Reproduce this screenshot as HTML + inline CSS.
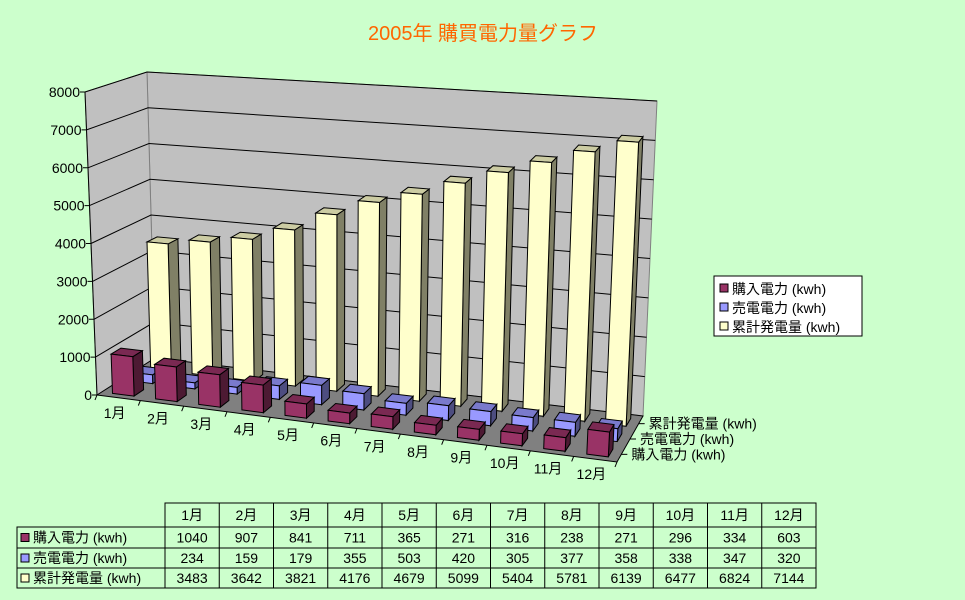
<!DOCTYPE html>
<html><head><meta charset="utf-8">
<style>
body{margin:0;background:#ccffcc;}
svg{display:block;font-family:"Liberation Sans","Noto Sans CJK JP",sans-serif;}
</style></head>
<body>
<svg id="chart" width="965" height="600" viewBox="0 0 965 600">
<rect x="0" y="0" width="965" height="600" fill="#ccffcc"/>
<text x="483" y="40" text-anchor="middle" font-size="20" fill="#ff6600">2005年  購買電力量グラフ</text>
<g id="plot"></g>
<g id="legend"></g>
<g id="table"></g>
</svg>
<script>
const categories=["1月","2月","3月","4月","5月","6月","7月","8月","9月","10月","11月","12月"];
const seriesNames=["購入電力 (kwh)","売電電力 (kwh)","累計発電量 (kwh)"];
const purchased=[1040,907,841,711,365,271,316,238,271,296,334,603];
const sold=[234,159,179,355,503,420,305,377,358,338,347,320];
const cumulative=[3483,3642,3821,4176,4679,5099,5404,5781,6139,6477,6824,7144];
const yTicks=[0,1000,2000,3000,4000,5000,6000,7000,8000];
const Y_MAX=8000;

const NS="http://www.w3.org/2000/svg";
const FL=[97,395],FR=[617,462],BL=[155,358],BR=[643,416];
const FTL=[85,92],FTR=[633,132],BTL=[147,72],BTR=[657,101];
function lerp(a,b,t){return [a[0]+(b[0]-a[0])*t,a[1]+(b[1]-a[1])*t];}
function P(u,v,t){
  const bl=lerp(FL,BL,t),br=lerp(FR,BR,t),tl=lerp(FTL,BTL,t),tr=lerp(FTR,BTR,t);
  const b=lerp(bl,br,u),tp=lerp(tl,tr,u);
  return lerp(b,tp,v/Y_MAX);
}
function pts(arr){return arr.map(p=>p[0].toFixed(1)+","+p[1].toFixed(1)).join(" ");}
function el(tag,attrs,parent){const e=document.createElementNS(NS,tag);for(const k in attrs)e.setAttribute(k,attrs[k]);parent.appendChild(e);return e;}

const plot=document.getElementById('plot');
let w=el('polygon',{points:pts([P(0,0,1),P(1,0,1),P(1,Y_MAX,1),P(0,Y_MAX,1)]),fill:'#c0c0c0',stroke:'#808080'},plot);


w=el('polygon',{points:pts([P(0,0,0),P(0,0,1),P(0,Y_MAX,1),P(0,Y_MAX,0)]),fill:'#c0c0c0',stroke:'#808080'},plot);


w=el('polygon',{points:pts([P(0,0,0),P(1,0,0),P(1,0,1),P(0,0,1)]),fill:'#808080',stroke:'#000'},plot);


yTicks.forEach(v=>{
  if(v>0){
    const a=P(0,v,0),b=P(0,v,1),c=P(1,v,1);
    const g=el('polyline',{points:pts([a,b,c]),fill:'none',stroke:'#000','stroke-width':1},plot);
    
    
  }
  const a=P(0,v,0);
  el('line',{x1:a[0]-5,y1:a[1],x2:a[0],y2:a[1],stroke:'#000'},plot);
  const t=el('text',{x:a[0]-5,y:a[1]+5,'text-anchor':'end','font-size':14,fill:'#000'},plot);
  t.textContent=v;
  
  
});
el('line',{x1:FL[0],y1:FL[1],x2:FTL[0],y2:FTL[1],stroke:'#000'},plot);
const series=[purchased,sold,cumulative];
const colors=[
 {front:'#993366',top:'#7a2952',side:'#4d1a33'},
 {front:'#9999ff',top:'#7a7acc',side:'#4d4d80'},
 {front:'#ffffcc',top:'#cccca3',side:'#808066'}];
const barNames=['bar-purchased','bar-sold','bar-cumulative'];
for(let s=2;s>=0;s--){
  const tc=(s+0.5)/3, t0=tc-0.085, t1=tc+0.085;
  for(let i=11;i>=0;i--){
    const val=series[s][i];
    const u0=(i+0.25)/12,u1=(i+0.75)/12;
    const g=el('g',{},plot);
    
    
    el('polygon',{points:pts([P(u1,0,t0),P(u1,0,t1),P(u1,val,t1),P(u1,val,t0)]),fill:colors[s].side,stroke:'#000'},g);
    el('polygon',{points:pts([P(u0,val,t0),P(u1,val,t0),P(u1,val,t1),P(u0,val,t1)]),fill:colors[s].top,stroke:'#000'},g);
    el('polygon',{points:pts([P(u0,0,t0),P(u1,0,t0),P(u1,val,t0),P(u0,val,t0)]),fill:colors[s].front,stroke:'#000'},g);
  }
}
for(let i=0;i<=12;i++){const a=P(i/12,0,0);el('line',{x1:a[0],y1:a[1],x2:a[0]-2,y2:a[1]+5,stroke:'#000'},plot);}
categories.forEach((c,i)=>{
  const a=P((i+0.5)/12,0,0);
  const t=el('text',{x:a[0]-4,y:a[1]+20,'text-anchor':'middle','font-size':14,fill:'#000'},plot);
  t.textContent=c;
  
  
});
seriesNames.forEach((n,s)=>{
  const a=P(1,0,(s+0.5)/3);
  el('line',{x1:a[0],y1:a[1],x2:a[0]+6,y2:a[1],stroke:'#000'},plot);
  const t=el('text',{x:a[0]+10,y:a[1]+5,'font-size':14,fill:'#000'},plot);
  t.textContent=n;
  
  
});
const lg=document.getElementById('legend');
el('rect',{x:714,y:276,width:148,height:60,fill:'#fff',stroke:'#000'},lg);
seriesNames.forEach((n,s)=>{
  const y=289+s*19;
  const g=el('g',{},lg);
  
  
  el('rect',{x:720,y:y-5,width:8,height:8,fill:colors[s].front,stroke:'#000'},g);
  const t=el('text',{x:732,y:y+5,'font-size':14,fill:'#000'},g);
  t.textContent=n;
});
const tb=document.getElementById('table');
const colX0=165,colW=54.25,rowY=[503,527,548,568,588];
el('rect',{x:colX0,y:rowY[0],width:colW*12,height:rowY[4]-rowY[0],fill:'none',stroke:'#000'},tb);
el('rect',{x:17,y:rowY[1],width:colX0-17,height:rowY[4]-rowY[1],fill:'none',stroke:'#000'},tb);
for(let r=1;r<4;r++)el('line',{x1:17,y1:rowY[r],x2:colX0+colW*12,y2:rowY[r],stroke:'#000'},tb);
for(let c=1;c<12;c++)el('line',{x1:colX0+c*colW,y1:rowY[0],x2:colX0+c*colW,y2:rowY[4],stroke:'#000'},tb);
categories.forEach((c,i)=>{
  const t=el('text',{x:colX0+(i+0.5)*colW,y:rowY[0]+17,'text-anchor':'middle','font-size':14,fill:'#000'},tb);
  t.textContent=c;
  
  
});
series.forEach((arr,s)=>{
  const yb=rowY[s+1],h=rowY[s+2]-yb;
  el('rect',{x:21,y:yb+h/2-4,width:8,height:8,fill:colors[s].front,stroke:'#000'},tb);
  const lt=el('text',{x:33,y:yb+h/2+5,'font-size':14,fill:'#000'},tb);
  lt.textContent=seriesNames[s];
  
  
  arr.forEach((v,i)=>{
    const t=el('text',{x:colX0+(i+0.5)*colW,y:yb+h/2+5,'text-anchor':'middle','font-size':14,fill:'#000'},tb);
    t.textContent=v;
    
    
  });
});
</script>
</body></html>
